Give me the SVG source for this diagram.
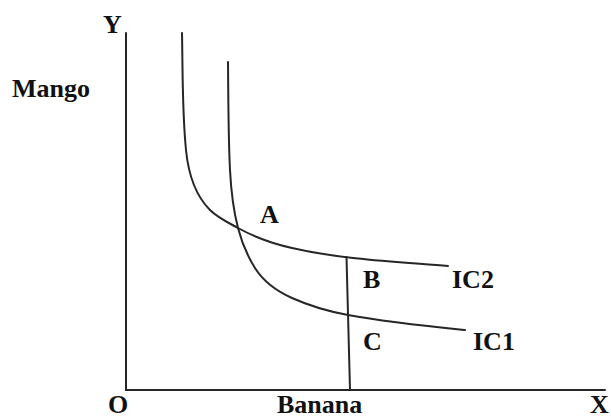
<svg xmlns="http://www.w3.org/2000/svg" width="611" height="419" viewBox="0 0 611 419">
<style>
.ln{fill:none;stroke:#262626;stroke-width:2;stroke-linecap:round;stroke-linejoin:round}
.t{font-family:"Liberation Serif","Times New Roman",serif;font-weight:bold;font-size:26px;fill:#111}
</style>
<rect width="611" height="419" fill="#fff"/>
<g id="connectors">
<path id="y-axis" class="ln" d="M126,33 L126,390"/>
<path id="x-axis" class="ln" d="M126,390 L605,390"/>
<path id="ic2" class="ln" d="M182,33 C182.8,72 182.1,111.2 186,150 C188.1,171.4 194.8,194.8 210,210 C217.8,217.8 228.3,222.6 238,228 C254.8,237.3 273.3,243.7 292,248 C342.7,259.6 396.2,261.8 448,266"/>
<path id="ic1" class="ln" d="M228,62 C228.4,98 228.2,134 230,170 C231,189.5 233.1,209.1 238,228 C241.6,242 247.3,255.7 255,268 C263.4,281.5 277.5,291.5 292,298 C309.8,306 328.8,311.5 348,315 C386.6,322.2 425.9,326.1 465,330"/>
<path id="banana-line" class="ln" d="M346.5,257 L350,390"/>
</g>
<g id="label-y"><text class="t" x="103" y="33">Y</text></g>
<g id="label-mango"><text class="t" x="12" y="97">Mango</text></g>
<g id="node-a"><text class="t" x="260" y="223">A</text></g>
<g id="node-b"><text class="t" x="363" y="288">B</text></g>
<g id="node-ic2"><text class="t" x="452" y="288">IC2</text></g>
<g id="node-c"><text class="t" x="363" y="350">C</text></g>
<g id="node-ic1"><text class="t" x="473" y="350">IC1</text></g>
<g id="label-o"><text class="t" x="108" y="413">O</text></g>
<g id="label-banana"><text class="t" x="277" y="413">Banana</text></g>
<g id="label-x"><text class="t" x="590" y="413">X</text></g>
</svg>
